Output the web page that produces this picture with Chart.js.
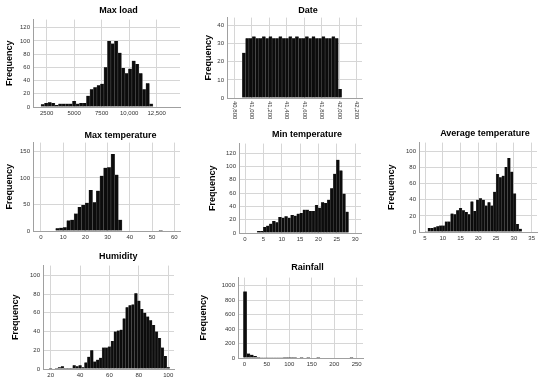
<!DOCTYPE html>
<html>
<head>
<meta charset="utf-8">
<script src="https://cdn.jsdelivr.net/npm/chart.js@4.4.0/dist/chart.umd.min.js"></script>
<style>
  html, body { margin:0; padding:0; background:#fff; }
  body { width:550px; height:383px; position:relative; overflow:hidden; font-family:'Liberation Sans', Arial, sans-serif; }
  .ttl { position:absolute; font-weight:bold; font-size:9px; line-height:1; transform:translate(-50%,-50%); white-space:nowrap; color:#000; }
  canvas { position:absolute; }
</style>
</head>
<body>
<script>
// histogram counts, plus bin start / bin width
const maxLoadCounts = [4,6,7,6,3,5,5,5,5,9,5,6,6,17,27,30,33,35,60,100,96,100,82,59,51,58,70,65,51,27,36,5];
const maxLoadBins = [1980, 318];

const dateCounts = [25,33,33,34,33,33,34,33,34,33,33,34,33,33,34,33,34,33,33,34,33,34,33,33,34,33,33,34,33,5];
const dateBins = [40891, 37.9];

const maxTempCounts = [1,5,6,7,20,21,33,45,49,53,77,54,76,104,119,120,145,106,21,1,0,0,0,0,0,0,0,0,0,2];
const maxTempBins = [4.95, 1.66];

const minTempCounts = [3,3,9,11,14,18,16,24,23,25,23,27,26,29,30,35,35,33,33,42,38,46,45,50,67,89,110,94,59,32];
const minTempBins = [3.3, 0.83];

const avgTempCounts = [1,5,5,6,7,8,8,13,13,23,22,27,30,27,25,22,38,26,40,42,40,33,37,33,50,72,68,70,81,92,75,48,10,4];
const avgTempBins = [5.0, 0.8];

const humidityCounts = [1,0,1,2,3,1,1,1,4,3,4,2,7,13,20,8,10,12,23,23,24,30,40,41,42,54,66,68,69,81,73,64,60,56,52,47,40,33,23,14,2];
const humidityBins = [19, 2];

const rainfallCounts = [920,62,45,27,14,9,5,4,3,3,2,2,1,1,1,1,0,1,0,1,0,0,1,0,0,0,0,0,0,0,0,0,1];
const rainfallBins = [-2, 7.4];

// axis ranges and tick steps: [xMin, xMax, xStep, yMax, yStep]
const maxLoadAxes  = [1255, 14620, 2500, 132.2, 20];
const dateAxes     = [40716, 42261, 200, 44.4, 10];
const maxTempAxes  = [-3.6, 62.6, 10, 166.4, 50];
const minTempAxes  = [-1.64, 31.6, 5, 134.2, 20];
const avgTempAxes  = [3.31, 36.5, 5, 111.2, 20];
const humidityAxes = [14.8, 103.9, 20, 110.4, 20];
const rainfallAxes = [-14, 264, 50, 1111, 200];

Chart.defaults.font.family = "'Liberation Sans', Arial, sans-serif";

function fmt(v){ return v >= 10000 ? v.toLocaleString('en-US') : String(v); }

// ticks at every multiple of step inside the range
function stepTicks(step){
  return s => {
    const out = [];
    for (let v = Math.ceil(s.min / step) * step; v <= s.max + 1e-9; v += step) out.push({ value: Math.round(v * 1000) / 1000 });
    s.ticks = out;
  };
}

// date axis labels run downwards (rotated clockwise)
const vertLabels = {
  id:'vertLabels',
  afterDraw(chart){
    const s = chart.scales.x, ctx = chart.ctx;
    ctx.save();
    ctx.font = '6px "Liberation Sans", Arial, sans-serif';
    ctx.fillStyle = '#333'; ctx.textAlign = 'left'; ctx.textBaseline = 'middle';
    s.ticks.forEach(t => {
      ctx.save();
      ctx.translate(s.getPixelForValue(t.value), s.top + 3);
      ctx.rotate(Math.PI/2);
      ctx.fillText(fmt(t.value), 0, 0);
      ctx.restore();
    });
    ctx.restore();
  }
};

const panels = [
  {title:'Max load', counts:maxLoadCounts, bins:maxLoadBins, axes:maxLoadAxes, box:[33,17,180,107], titleAt:[118.5,10], freqX:10, xH:16},
  {title:'Date', counts:dateCounts, bins:dateBins, axes:dateAxes, box:[227,15,362,98], titleAt:[308,9.5], freqX:208.3, xH:24, vert:true},
  {title:'Max temperature', counts:maxTempCounts, bins:maxTempBins, axes:maxTempAxes, box:[33,140,180,231], titleAt:[120.5,135], freqX:10, xH:16},
  {title:'Min temperature', counts:minTempCounts, bins:minTempBins, axes:minTempAxes, box:[239,141,361,233], titleAt:[307,134.3], freqX:213, xH:16},
  {title:'Average temperature', counts:avgTempCounts, bins:avgTempBins, axes:avgTempAxes, box:[419,140,537,232], titleAt:[485,133.3], freqX:391.7, xH:16},
  {title:'Humidity', counts:humidityCounts, bins:humidityBins, axes:humidityAxes, box:[43,263,174,369], titleAt:[118.3,256], freqX:15.5, xH:14},
  {title:'Rainfall', counts:rainfallCounts, bins:rainfallBins, axes:rainfallAxes, box:[238,275,363,358], titleAt:[307.5,267.3], freqX:203.3, xH:16}
];

function build(p){
  const [l, t, r, b] = p.box;
  const [xMin, xMax, xStep, yMax, yStep] = p.axes;
  const padT = 4, padR = 6;
  const cl = Math.floor(p.freqX - 6);
  const W = l - cl;
  const cw = r - cl + padR, ch = b - t + padT + p.xH;

  const cv = document.createElement('canvas');
  cv.width = cw; cv.height = ch;
  cv.style.width = cw + 'px'; cv.style.height = ch + 'px';
  cv.style.left = cl + 'px'; cv.style.top = (t - padT) + 'px';
  document.body.appendChild(cv);

  const d = document.createElement('div');
  d.className = 'ttl'; d.textContent = p.title;
  d.style.left = p.titleAt[0] + 'px'; d.style.top = p.titleAt[1] + 'px';
  document.body.appendChild(d);

  const data = p.counts.map((c, i) => ({ x: p.bins[0] + p.bins[1] * (i + 0.5), y: c || null }));
  const grid = { color:'#d6d6d6', lineWidth:1, drawTicks:false, offset:false };
  const border = { color:'#a0a0a0', width:1 };

  new Chart(cv, {
    type:'bar',
    data:{ datasets:[{
      data,
      backgroundColor:'#0c0c0c',
      borderColor:'#5a5a5a',
      borderWidth:{ left:0.5, right:0.5, top:0, bottom:0 },
      barPercentage:1, categoryPercentage:1
    }]},
    options:{
      responsive:false, animation:false, devicePixelRatio:1,
      layout:{ padding:{ top:padT, right:padR, left:0, bottom:0 } },
      plugins:{ legend:{display:false}, tooltip:{enabled:false} },
      scales:{
        x:{
          type:'linear', min:xMin, max:xMax, offset:false,
          afterBuildTicks: stepTicks(xStep),
          afterFit: s => { s.height = p.xH; },
          grid, border,
          ticks:{ display:!p.vert, autoSkip:false, maxRotation:0,
                  padding:3, font:{size:6}, color:'#333', callback:v => fmt(v) }
        },
        y:{
          min:0, max:yMax,
          afterBuildTicks: stepTicks(yStep),
          afterFit: s => { s.width = W; },
          grid, border,
          ticks:{ autoSkip:false, padding:3, font:{size:6}, color:'#333', callback:v => fmt(v) },
          title:{ display:true, text:'Frequency', color:'#000', font:{size:9, weight:'bold'},
                  padding:{ top: p.freqX - cl - 5.4, bottom:0 } }
        }
      }
    },
    plugins: p.vert ? [vertLabels] : []
  });
}

panels.forEach(build);
</script>
</body>
</html>
